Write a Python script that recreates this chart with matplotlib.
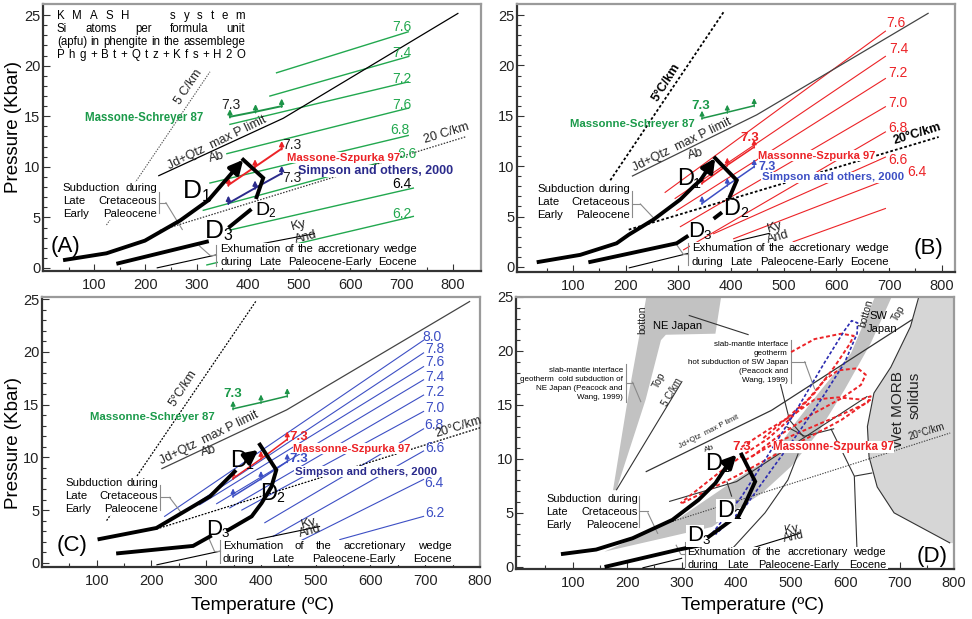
import matplotlib
matplotlib.use('Agg')
import matplotlib.pyplot as plt
from matplotlib.patches import Rectangle, Polygon

plt.rcParams['font.family'] = ['Liberation Sans', 'DejaVu Sans']

GREEN = '#22a84f'
GREEN_TXT = '#1b9a4a'
RED = '#ec2327'
BLUE = '#3d4fc4'
NAVY = '#2b2b8c'
LEADER = '#8a8a8a'

# ---------------- panel A (green Si isopleths) ----------------
A_iso_lab = ['7.6', '7.4', '7.2', '7.6', '6.8', '6.6', '6.4', '6.2']
A_iso_T1 = [456, 443, 365, 359, 326, 313, 365, 320]
A_iso_P1 = [19.3, 17.0, 14.2, 11.3, 8.4, 5.7, 3.75, 0.3]
A_iso_T2 = [713, 713, 713, 713, 713, 700, 723, 723]
A_iso_P2 = [23.35, 20.9, 18.4, 15.8, 13.1, 11.0, 7.9, 5.1]
A_lab_T = [700, 700, 700, 700, 697, 711, 700, 700]
A_lab_P = [23.8, 21.3, 18.7, 16.1, 13.6, 11.3, 8.3, 5.3]
A_lab_col = [GREEN, GREEN, GREEN, GREEN, GREEN, GREEN, 'k', GREEN]
A_pro_T = [43, 124, 199, 268, 323, 391]
A_pro_P = [0.8, 1.45, 2.7, 4.7, 6.7, 10.7]
A_ret_T = [391, 430, 417]
A_ret_P = [10.7, 8.9, 7.0]
A_d3_T = [365, 404]
A_d3_P = [4.1, 5.7]
A_low_T = [147, 320]
A_low_P = [0.46, 2.6]
A_jd_T = [225, 469, 811]
A_jd_P = [9.1, 14.8, 25.2]
A_g5_T = [124, 326]
A_g5_P = [4.25, 19.4]
A_g20_T = [228, 827]
A_g20_P = [3.7, 13.0]
A_ky_T = [417, 531]
A_ky_P = [2.3, 3.4]
A_thin_T = [222, 339]
A_thin_P = [0.0, 1.3]
A_ms_T = [365, 415, 466]
A_ms_P = [14.95, 15.45, 16.0]
A_msz_T = [362, 414, 466]
A_msz_P = [8.2, 10.0, 11.8]
A_sim_T = [362, 414, 466]
A_sim_P = [6.4, 7.9, 9.35]

# ---------------- panel B (red Si isopleths) ----------------
B_iso_lab = ['7.6', '7.4', '7.2', '7.0', '6.8', '6.6', '6.4', '']
B_iso_T1 = [275, 294, 297, 304, 310, 367, 405, 518]
B_iso_P1 = [7.4, 6.8, 5.6, 4.0, 1.7, 3.3, 2.8, 2.5]
B_iso_T2 = [693, 693, 693, 693, 693, 693, 727, 693]
B_iso_P2 = [23.4, 20.9, 18.7, 15.9, 13.4, 10.9, 9.3, 5.8]
B_lab_T = [712, 718, 716, 716, 716, 716, 753, 0]
B_lab_P = [24.2, 21.6, 19.2, 16.3, 13.75, 10.6, 9.45, 0]
B_pro_T = [35, 114, 183, 206, 253, 304, 329, 342, 370]
B_pro_P = [0.5, 1.2, 2.35, 3.2, 4.7, 6.7, 8.0, 8.6, 10.8]
B_ret_T = [370, 411, 398]
B_ret_P = [10.8, 8.6, 7.0]
B_d3_T = [370, 380]
B_d3_P = [4.9, 5.3]
B_low_T = [133, 297, 316]
B_low_P = [0.5, 2.35, 3.0]
B_jd_T = [212, 449, 775]
B_jd_P = [9.0, 15.1, 25.2]
B_g5_T = [171, 386]
B_g5_P = [8.6, 25.3]
B_g20_T = [206, 794]
B_g20_P = [3.7, 12.9]
B_ky_T = [405, 474]
B_ky_P = [2.5, 3.35]
B_thin_T = [206, 319]
B_thin_P = [-0.1, 1.35]
B_ms_T = [345, 393, 444]
B_ms_P = [14.75, 15.35, 16.0]
B_msz_T = [345, 393, 444]
B_msz_P = [8.3, 10.1, 11.9]
B_sim_T = [345, 393, 444]
B_sim_P = [6.3, 8.1, 9.95]

# ---------------- panel C (blue Si isopleths) ----------------
C_iso_lab = ['8.0', '7.8', '7.6', '7.4', '7.2', '7.0', '6.8', '6.6', '6.4', '6.2']
C_iso_T1 = [224, 255, 288, 319, 343, 365, 407, 422, 450, 544]
C_iso_P1 = [4.4, 4.7, 5.5, 5.6, 5.2, 5.0, 3.8, 2.5, 1.5, 2.2]
C_iso_T2 = [697, 697, 697, 697, 697, 697, 697, 697, 697, 697]
C_iso_P2 = [21.1, 19.9, 18.6, 17.35, 15.9, 14.35, 12.7, 10.6, 7.9, 4.4]
C_lab_T = [712, 718, 718, 718, 718, 718, 715, 718, 715, 718]
C_lab_P = [21.45, 20.25, 19.0, 17.65, 16.2, 14.65, 13.1, 10.9, 7.6, 4.75]
C_pro_T = [105, 209, 307, 352]
C_pro_P = [2.25, 3.3, 6.3, 8.65]
C_arr_T = [380, 395]
C_arr_P = [10.1, 10.7]
C_ret_T = [398, 428, 419, 401, 383, 340]
C_ret_P = [11.2, 8.8, 7.2, 5.65, 4.4, 3.1]
C_low_T = [139, 276, 307]
C_low_P = [0.9, 1.6, 2.5]
C_jd_T = [218, 447, 782]
C_jd_P = [8.9, 14.5, 24.8]
C_g5_T = [118, 392]
C_g5_P = [4.0, 24.9]
C_g20_T = [209, 800]
C_g20_P = [3.2, 12.8]
C_ky_T = [392, 508]
C_ky_P = [2.2, 3.45]
C_thin_T = [209, 325]
C_thin_P = [-0.2, 1.1]
C_ms_T = [349, 400, 448]
C_ms_P = [14.6, 15.2, 15.8]
C_msz_T = [349, 400, 448]
C_msz_P = [8.0, 9.85, 11.7]
C_sim_T = [349, 400, 448]
C_sim_P = [6.3, 7.95, 9.6]

# ---------------- panel D (thermal models) ----------------
D_pro_T = [82, 143, 210, 283, 331, 362, 386, 401]
D_pro_P = [1.2, 1.6, 2.65, 4.35, 6.2, 7.75, 9.6, 10.4]
D_ret_T = [410, 435, 417, 404]
D_ret_P = [10.4, 7.9, 5.9, 4.65]
D_d3_T = [350, 392]
D_d3_P = [2.8, 4.35]
D_low_T = [162, 295, 335]
D_low_P = [0.03, 1.6, 2.0]
D_jd_T = [234, 465, 723]
D_jd_P = [8.8, 14.5, 22.9]
D_g5_T = [180, 301]
D_g5_P = [7.1, 17.2]
D_g20_T = [283, 793]
D_g20_P = [4.2, 12.4]
D_ky_T = [368, 517]
D_ky_P = [0.8, 3.1]
D_thin_T = [228, 301]
D_thin_P = [-0.1, 0.8]
D_ne_T = [174, 201, 237, 374, 362, 271, 262, 234, 180]
D_ne_P = [7.1, 15.5, 25.5, 25.5, 21.6, 21.5, 21.0, 15.5, 7.1]
D_sw_T = [158, 295, 398, 465, 508, 556, 611, 659, 690, 647, 599, 550, 501, 447, 392, 356, 253]
D_sw_P = [1.4, 4.5, 8.05, 10.2, 13.3, 16.4, 19.8, 25.5, 25.5, 20.7, 16.4, 12.4, 9.3, 6.8, 5.0, 3.7, 2.5]
D_morb_T = [738, 720, 684, 653, 641, 644, 659, 690, 793]
D_morb_P = [25.5, 22.25, 18.5, 16.1, 13.0, 10.2, 7.4, 5.0, 2.2]
D_rx = [([277, 401, 641], [6.05, 7.9, 15.8]),
        ([492, 526, 580], [13.0, 12.1, 12.8]),
        ([574, 617, 623], [12.8, 8.4, 0.0]),
        ([617, 650], [8.4, 8.7]),
        ([514, 495, 453, 386], [10.5, 8.05, 5.0, 1.3]),
        ([383, 392], [7.9, 6.5]),
        ([313, 423], [23.3, 21.5])]
D_red_loops = [
    ([501, 544, 593, 616, 608, 580, 544, 501, 459, 417, 368, 298],
     [19.9, 21.1, 21.6, 21.4, 20.6, 18.5, 16.1, 13.8, 11.9, 10.5, 8.7, 5.9]),
    ([429, 477, 538, 593, 629, 638, 623, 587, 562, 532, 489, 447],
     [10.2, 12.1, 14.1, 15.6, 16.85, 17.8, 18.4, 18.2, 17.3, 15.5, 13.6, 11.8]),
    ([417, 471, 532, 593, 641, 647, 629, 587, 544, 508, 459, 410],
     [9.9, 11.45, 12.8, 14.1, 15.2, 15.8, 15.5, 15.7, 15.5, 14.2, 12.7, 11.1]),
    ([647, 593, 526, 465, 404, 356, 301],
     [15.5, 13.6, 11.8, 10.2, 8.5, 7.3, 5.9])]
D_blue_T = [356, 410, 453, 514, 562, 599, 612, 623, 622, 599, 556, 514, 465, 417, 362]
D_blue_P = [3.1, 6.5, 9.9, 14.8, 18.9, 21.9, 22.8, 22.6, 21.6, 18.9, 15.5, 12.4, 9.0, 5.6, 3.0]

X_TICKS = [100, 200, 300, 400, 500, 600, 700, 800]
Y_TICKS = [0, 5, 10, 15, 20, 25]

fig = plt.figure(figsize=(9.72, 6.19), dpi=100)
axA = fig.add_axes([0.0442, 0.5622, 0.4506, 0.4313])
axB = fig.add_axes([0.5319, 0.5606, 0.4506, 0.4330])
axC = fig.add_axes([0.0432, 0.0840, 0.4506, 0.4362])
axD = fig.add_axes([0.5309, 0.0808, 0.4506, 0.4394])


def frame(ax, xlim, ylim):
    ax.set_xlim(*xlim)
    ax.set_ylim(*ylim)
    ax.set_xticks(X_TICKS)
    ax.set_yticks(Y_TICKS)
    ax.set_xticks(range(50, 800, 50), minor=True)
    ax.set_yticks(range(0, 26), minor=True)
    ax.tick_params(which='both', direction='in', colors='#333', labelsize=10.5,
                   labelcolor='#222', width=0.8)
    ax.tick_params(which='major', length=5)
    ax.tick_params(which='minor', length=3)
    ax.tick_params(axis='x', pad=5)
    ax.tick_params(axis='y', pad=2)
    for s in ['left', 'bottom']:
        ax.spines[s].set_color('#333')
        ax.spines[s].set_linewidth(1.6)
    for s in ['top', 'right']:
        ax.spines[s].set_color('#9a9a9a')
        ax.spines[s].set_linewidth(1.6)


def line(ax, T, P, **kw):
    kw.setdefault('color', 'k')
    kw.setdefault('lw', 0.8)
    kw.setdefault('zorder', 3)
    ax.plot(T, P, solid_capstyle='butt', **kw)


def iso(ax, T1, P1, T2, P2, color, lw=0.9):
    for a, b, c, d in zip(T1, P1, T2, P2):
        ax.plot([a, c], [b, d], color=color, lw=lw, zorder=2)


def si_line(ax, T, P, color, lw=1.4, alen=0.75):
    ax.plot(T, P, color=color, lw=lw, zorder=7)
    for t, p in zip(T, P):
        ax.annotate('', xy=(t, p + alen), xytext=(t, p - 0.1),
                    arrowprops=dict(arrowstyle='-|>', color=color, lw=lw * 0.8,
                                    mutation_scale=7, shrinkA=0, shrinkB=0), zorder=7)


def path(ax, T, P, lw=2.8, arrow=True):
    ax.plot(T[:-1] if arrow else T, P[:-1] if arrow else P, color='k', lw=lw,
            solid_joinstyle='miter', zorder=8)
    if arrow:
        ax.annotate('', xy=(T[-1], P[-1]), xytext=(T[-2], P[-2]),
                    arrowprops=dict(arrowstyle='-|>', color='k', lw=lw,
                                    mutation_scale=20, shrinkA=0, shrinkB=0), zorder=8)


def dlab(ax, x, y, n, fs=19, bg=False):
    kw = dict(bbox=dict(fc='white', ec='none', pad=0.5)) if bg else {}
    ax.text(x, y, 'D', fontsize=fs, va='baseline', ha='left', zorder=9, **kw)
    ax.annotate(n, (x, y), xytext=(fs * 0.70, -fs * 0.10), textcoords='offset points',
                fontsize=fs * 0.6, va='baseline', ha='left', zorder=9)


def justify(ax, rows, x0, x1, ys, fs, color='k', pad_y=0.6, bg=True):
    r = fig.canvas.get_renderer()
    inv = ax.transData.inverted()
    if bg:
        ax.add_patch(Rectangle((x0 - 4, min(ys) - pad_y), x1 - x0 + 8,
                               max(ys) - min(ys) + 2 * pad_y, fc='white', ec='none', zorder=5))
    for words, y in zip(rows, ys):
        ts = [ax.text(0, y, w, fontsize=fs, color=color, va='center', ha='left', zorder=6)
              for w in words]
        ws = [t.get_window_extent(r).width for t in ts]
        X0 = ax.transData.transform((x0, y))[0]
        X1 = ax.transData.transform((x1, y))[0]
        gap = (X1 - X0 - sum(ws)) / max(len(ws) - 1, 1)
        X = X0
        for t, w in zip(ts, ws):
            t.set_x(inv.transform((X, 0))[0])
            X += w + gap


def bracket(ax, x, y0, y1, tip, lead):
    ax.plot([x, x], [y0, y1], color=LEADER, lw=0.8, zorder=6)
    ax.plot([x, x + tip], [(y0 + y1) / 2] * 2, color=LEADER, lw=0.8, zorder=6)
    ax.plot(lead[0], lead[1], color=LEADER, lw=0.8, zorder=6)


def rtext(ax, x, y, s, rot, fs=9, color='#222', weight='normal', **kw):
    ax.text(x, y, s, fontsize=fs, rotation=rot, rotation_mode='anchor', ha='center',
            va='center', color=color, weight=weight, zorder=6, **kw)


WHITE = dict(fc='white', ec='none', pad=0.3)

SUB = [['Subduction', 'during'], ['Late', 'Cretaceous'], ['Early', 'Paleocene']]
EXH = [['Exhumation', 'of', 'the', 'accretionary', 'wedge'],
       ['during', 'Late', 'Paleocene-Early', 'Eocene']]

# ======================= A =======================
ax = axA
frame(ax, (0, 855), (-0.3, 26.1))
iso(ax, A_iso_T1, A_iso_P1, A_iso_T2, A_iso_P2, GREEN, lw=1.0)
for s, x, y, c in zip(A_iso_lab, A_lab_T, A_lab_P, A_lab_col):
    ax.text(x, y, s, fontsize=10, color=c, ha='center', va='center', zorder=4)
line(ax, A_jd_T, A_jd_P, lw=0.9)
line(ax, A_g5_T, A_g5_P, color='#555', lw=0.8, ls=(0, (1.2, 1.2)))
line(ax, A_g20_T, A_g20_P, color='#333', lw=0.9, ls=(0, (1.2, 1.2)))
line(ax, A_ky_T, A_ky_P, lw=0.8)
line(ax, A_thin_T, A_thin_P, lw=0.8)
si_line(ax, A_ms_T, A_ms_P, '#1d9448')
si_line(ax, A_msz_T, A_msz_P, RED)
si_line(ax, A_sim_T, A_sim_P, NAVY)
path(ax, A_pro_T, A_pro_P)
path(ax, A_ret_T, A_ret_P, arrow=False)
path(ax, A_d3_T, A_d3_P, arrow=False)
path(ax, A_low_T, A_low_P, arrow=False)
ax.text(82, 14.8, 'Massone-Schreyer 87', fontsize=8.3, color=GREEN_TXT, weight='bold',
        va='center', zorder=6)
ax.text(367, 16.1, '7.3', fontsize=10, color='#222', ha='center', va='center', zorder=6)
ax.text(476, 10.9, 'Massone-Szpurka 97', fontsize=8.2, color=RED, weight='bold',
        va='center', zorder=6, bbox=WHITE)
ax.text(486, 12.2, '7.3', fontsize=10, color='#222', ha='center', va='center', zorder=6)
ax.text(498, 9.6, 'Simpson and others, 2000', fontsize=9, color=NAVY, weight='bold',
        va='center', zorder=6, bbox=WHITE)
ax.text(486, 8.85, '7.3', fontsize=10, color='#222', ha='center', va='center', zorder=6)
dlab(ax, 273, 6.9, '1')
dlab(ax, 414, 5.2, '2', fs=14)
dlab(ax, 316, 3.0, '3')
rtext(ax, 284, 17.9, '5 C/km', 56, fs=9)
rtext(ax, 788, 13.3, '20 C/km', 17, fs=9)
rtext(ax, 339, 12.4, 'Jd+Qtz  max P limit', 26, fs=9)
rtext(ax, 339, 11.0, 'Ab', 15, fs=9)
rtext(ax, 499, 4.2, 'Ky', 15, fs=9.5)
rtext(ax, 514, 3.0, 'And', 15, fs=9)
ax.text(15, 2.1, '(A)', fontsize=16, va='center', zorder=6)
justify(ax, [['K', 'M', 'A', 'S', 'H', ' ', ' ', ' ', 's', 'y', 's', 't', 'e', 'm'],
             ['Si', 'atoms', 'per', 'formula', 'unit'],
             ['(apfu)', 'in', 'phengite', 'in', 'the', 'assemblege'],
             ['P', 'h', 'g', '+', 'B', 't', '+', 'Q', 't', 'z', '+', 'K', 'f', 's', '+',
              'H', '2', 'O']],
        27, 395, [24.9, 23.6, 22.3, 21.1], 8.3, bg=False)
justify(ax, SUB, 39, 223, [7.9, 6.6, 5.3], 8.2)
bracket(ax, 226, 5.4, 7.5, 14, ([240, 272], [6.45, 3.8]))
justify(ax, EXH, 346, 730, [1.85, 0.56], 8.2)
bracket(ax, 338, 0.2, 2.3, -12, ([326, 305], [1.25, 2.2]))

# ======================= B =======================
ax = axB
frame(ax, (-6, 825), (-0.5, 26.1))
iso(ax, B_iso_T1, B_iso_P1, B_iso_T2, B_iso_P2, RED, lw=0.8)
for s, x, y in zip(B_iso_lab, B_lab_T, B_lab_P):
    if s:
        ax.text(x, y, s, fontsize=10, color=RED, ha='center', va='center', zorder=4)
line(ax, B_jd_T, B_jd_P, lw=0.9, color='#444')
line(ax, B_g5_T, B_g5_P, lw=1.3, ls=(0, (1.5, 1.2)))
line(ax, B_g20_T, B_g20_P, lw=1.3, ls=(0, (1.5, 1.2)))
line(ax, B_ky_T, B_ky_P, lw=0.8)
line(ax, B_thin_T, B_thin_P, lw=0.8)
si_line(ax, B_ms_T, B_ms_P, '#1d9448', lw=1.1)
si_line(ax, B_msz_T, B_msz_P, RED, lw=1.1)
si_line(ax, B_sim_T, B_sim_P, BLUE, lw=1.1)
path(ax, B_pro_T, B_pro_P)
path(ax, B_ret_T, B_ret_P, arrow=False)
path(ax, B_d3_T, B_d3_P, arrow=False)
path(ax, B_low_T, B_low_P, arrow=False)
ax.text(94, 14.2, 'Massonne-Schreyer 87', fontsize=8.2, color=GREEN_TXT, weight='bold',
        va='center', zorder=6)
ax.text(342, 16.0, '7.3', fontsize=9.5, color=GREEN_TXT, weight='bold', ha='center',
        va='center', zorder=6)
ax.text(452, 11.05, 'Massonne-Szpurka 97', fontsize=8.0, color=RED, weight='bold',
        va='center', zorder=6, bbox=WHITE)
ax.text(436, 12.8, '7.3', fontsize=9.5, color=RED, weight='bold', ha='center',
        va='center', zorder=6)
ax.text(458, 8.9, 'Simpson and others, 2000', fontsize=8.2, color=BLUE, weight='bold',
        va='center', zorder=6, bbox=WHITE)
ax.text(452, 9.9, '7.3', fontsize=9.0, color=BLUE, weight='bold', ha='left',
        va='center', zorder=6)
dlab(ax, 297, 8.1, '1', fs=17)
dlab(ax, 386, 5.2, '2', fs=17)
dlab(ax, 319, 3.0, '3', fs=16)
rtext(ax, 278, 18.3, '5°C/km', 58, fs=9, color='k', weight='bold')
rtext(ax, 753, 13.2, '20°C/km', 17, fs=9, color='k', weight='bold')
rtext(ax, 307, 12.1, 'Jd+Qtz  max P limit', 26, fs=9)
rtext(ax, 332, 11.2, 'Ab', 15, fs=9)
rtext(ax, 484, 3.9, 'Ky', 15, fs=9.5)
rtext(ax, 490, 3.0, 'And', 15, fs=9)
ax.text(775, 1.85, '(B)', fontsize=16, va='center', ha='center', zorder=6)
justify(ax, SUB, 32, 209, [7.7, 6.4, 5.2], 8.2)
bracket(ax, 212, 5.0, 7.5, 16, ([228, 256], [6.25, 4.7]))
justify(ax, EXH, 326, 699, [1.85, 0.53], 8.2)
bracket(ax, 319, 0.2, 2.4, -10, ([309, 297], [1.3, 2.2]))

# ======================= C =======================
ax = axC
frame(ax, (0, 800), (-0.4, 25.2))
iso(ax, C_iso_T1, C_iso_P1, C_iso_T2, C_iso_P2, BLUE, lw=0.8)
for s, x, y in zip(C_iso_lab, C_lab_T, C_lab_P):
    ax.text(x, y, s, fontsize=10, color=BLUE, ha='center', va='center', zorder=4)
line(ax, C_jd_T, C_jd_P, lw=0.9, color='#444')
line(ax, C_g5_T, C_g5_P, lw=0.9, ls=(0, (1.5, 1.2)))
line(ax, C_g20_T, C_g20_P, lw=0.9, ls=(0, (1.5, 1.2)))
line(ax, C_ky_T, C_ky_P, lw=0.8)
line(ax, C_thin_T, C_thin_P, lw=0.8)
si_line(ax, C_ms_T, C_ms_P, '#1d9448', lw=1.1)
si_line(ax, C_msz_T, C_msz_P, RED, lw=1.1)
si_line(ax, C_sim_T, C_sim_P, BLUE, lw=1.1)
path(ax, C_pro_T, C_pro_P, arrow=False)
path(ax, C_arr_T, C_arr_P)
path(ax, C_ret_T, C_ret_P, arrow=False)
path(ax, C_low_T, C_low_P, arrow=False)
ax.text(87, 13.8, 'Massonne-Schreyer 87', fontsize=8.2, color=GREEN_TXT, weight='bold',
        va='center', zorder=6)
ax.text(349, 16.0, '7.3', fontsize=9.5, color=GREEN_TXT, weight='bold', ha='center',
        va='center', zorder=6)
ax.text(459, 10.8, 'Massonne-Szpurka 97', fontsize=8.0, color=RED, weight='bold',
        va='center', zorder=6, bbox=WHITE)
ax.text(452, 11.9, '7.3', fontsize=9.5, color=RED, weight='bold', ha='left',
        va='center', zorder=6)
ax.text(462, 8.65, 'Simpson and others, 2000', fontsize=8.2, color=NAVY, weight='bold',
        va='center', zorder=6, bbox=WHITE)
ax.text(452, 9.8, '7.3', fontsize=9.5, color=BLUE, weight='bold', ha='left',
        va='center', zorder=6)
dlab(ax, 343, 9.1, '1', fs=17)
dlab(ax, 398, 6.0, '2', fs=17)
dlab(ax, 300, 2.65, '3', fs=16)
rtext(ax, 258, 16.6, '5°C/km', 57, fs=9)
rtext(ax, 760, 12.9, '20°C/km', 17, fs=9)
rtext(ax, 305, 11.8, 'Jd+Qtz  max P limit', 26, fs=9)
rtext(ax, 305, 10.6, 'Ab', 15, fs=9)
rtext(ax, 487, 3.8, 'Ky', 15, fs=9.5)
rtext(ax, 490, 3.0, 'And', 15, fs=9)
ax.text(27, 1.6, '(C)', fontsize=16, va='center', zorder=6)
justify(ax, SUB, 42, 212, [7.55, 6.3, 5.1], 8.2)
bracket(ax, 215, 5.0, 7.4, 18, ([233, 255], [6.2, 4.7]))
justify(ax, EXH, 330, 748, [1.55, 0.35], 8.2)
bracket(ax, 325, 0.0, 2.2, -10, ([315, 305], [1.1, 2.3]))

# ======================= D =======================
ax = axD
frame(ax, (-4, 794), (-0.2, 25.0))
ax.add_patch(Polygon(list(zip(D_ne_T, D_ne_P)), closed=True, fc='#c2c2c2', ec='none', zorder=1))
ax.add_patch(Polygon(list(zip(D_sw_T, D_sw_P)), closed=True, fc='#c2c2c2', ec='none', zorder=1))
ax.add_patch(Polygon(list(zip(D_morb_T + [800, 800], D_morb_P + [2.2, 25.5])), closed=True,
                     fc='#d6d6d6', ec='none', zorder=1))
line(ax, D_morb_T, D_morb_P, lw=0.8, color='#333', zorder=2)
for T, P in D_rx:
    line(ax, T, P, lw=0.8, color='#333')
line(ax, D_jd_T, D_jd_P, lw=0.9, color='#333')
line(ax, D_g5_T, D_g5_P, lw=0.8, color='#333')
line(ax, D_g20_T, D_g20_P, lw=0.8, color='#444', ls=(0, (1.2, 1.2)))
line(ax, D_ky_T, D_ky_P, lw=0.8)
line(ax, D_thin_T, D_thin_P, lw=0.8)
for T, P in D_red_loops:
    ax.plot(T, P, color=RED, lw=1.4, ls=(0, (2, 1.3)), zorder=7)
ax.plot(D_blue_T, D_blue_P, color='#2b2bb0', lw=1.2, ls=(0, (2, 1.3)), zorder=7)
path(ax, D_pro_T, D_pro_P)
path(ax, D_ret_T, D_ret_P, arrow=False)
path(ax, D_d3_T, D_d3_P, arrow=False)
path(ax, D_low_T, D_low_P, arrow=False)
ax.text(410, 11.1, '7.3', fontsize=9.5, color=RED, weight='bold', ha='center',
        va='center', zorder=9)
ax.text(468, 11.1, 'Massonne-Szpurka 97', fontsize=8.3, color=RED, weight='bold',
        va='center', zorder=9, bbox=WHITE)
dlab(ax, 344, 9.0, '1', fs=17)
dlab(ax, 365, 4.65, '2', fs=17, bg=True)
dlab(ax, 310, 2.35, '3', fs=16, bg=True)
rtext(ax, 228, 22.9, 'botton', 90, fs=7.5)
ax.text(292, 22.3, 'NE Japan', fontsize=8, ha='center', va='center', zorder=6)
rtext(ax, 259, 17.3, 'Top', 62, fs=7.5)
rtext(ax, 283, 16.2, '5 C/km', 60, fs=7)
rtext(ax, 350, 12.5, 'Jd+Qtz  max P limit', 27, fs=5.5)
rtext(ax, 350, 10.9, 'Ab', 20, fs=6)
rtext(ax, 750, 12.5, '20°C/km', 17, fs=7)
rtext(ax, 501, 3.4, 'Ky', 12, fs=8.5)
rtext(ax, 506, 2.75, 'And', 12, fs=8.5)
rtext(ax, 638, 23.5, 'botton', 75, fs=7.5)
ax.text(662, 23.2, 'SW', fontsize=8, ha='center', va='center', zorder=6)
ax.text(668, 22.0, 'Japan', fontsize=8, ha='center', va='center', zorder=6)
rtext(ax, 699, 23.5, 'Top', 60, fs=7.5)
rtext(ax, 697, 14.6, 'Wet MORB', 90, fs=11)
rtext(ax, 727, 15.9, 'solidus', 90, fs=11)
ax.text(760, 0.95, '(D)', fontsize=16, va='center', ha='center', zorder=6)
for i, s in enumerate(['slab-mantle interface', 'geotherm  cold subduction of',
                       'NE Japan (Peacock and', 'Wang, 1999)']):
    ax.text(192, 18.2 - 0.83 * i, s, fontsize=5.8, ha='right', va='center', zorder=6)
bracket(ax, 198, 15.3, 18.8, 12, ([210, 225], [17.1, 15.3]))
for i, s in enumerate(['slab-mantle interface', 'geotherm', 'hot subduction of SW Japan',
                       '(Peacock and', 'Wang, 1999)']):
    ax.text(495, 20.6 - 0.84 * i, s, fontsize=5.8, ha='right', va='center', zorder=6,
            bbox=dict(fc='white', ec='none', pad=0.2))
bracket(ax, 501, 17.0, 21.0, 25, ([526, 544], [19.0, 16.5]))
ax.plot([480, 498, 523], [17.2, 13.6, 12.1], color='#333', lw=0.8, zorder=3)
justify(ax, SUB, 52, 220, [6.25, 5.05, 3.85], 7.9)
bracket(ax, 222, 3.7, 6.6, 16, ([238, 256], [5.0, 3.1]))
justify(ax, EXH, 310, 675, [1.36, 0.16], 7.9, pad_y=0.5)
bracket(ax, 306, 0.0, 2.3, -8, ([298, 290], [1.2, 2.0]))

fig.text(0.0135, 0.795, 'Pressure (Kbar)', rotation=90, fontsize=13.5, ha='center', va='center')
fig.text(0.0135, 0.284, 'Pressure (Kbar)', rotation=90, fontsize=13.5, ha='center', va='center')
fig.text(0.27, 0.022, 'Temperature (ºC)', fontsize=13.5, ha='center', va='center')
fig.text(0.774, 0.022, 'Temperature (ºC)', fontsize=13.5, ha='center', va='center')

fig.savefig('out.png', dpi=100)
